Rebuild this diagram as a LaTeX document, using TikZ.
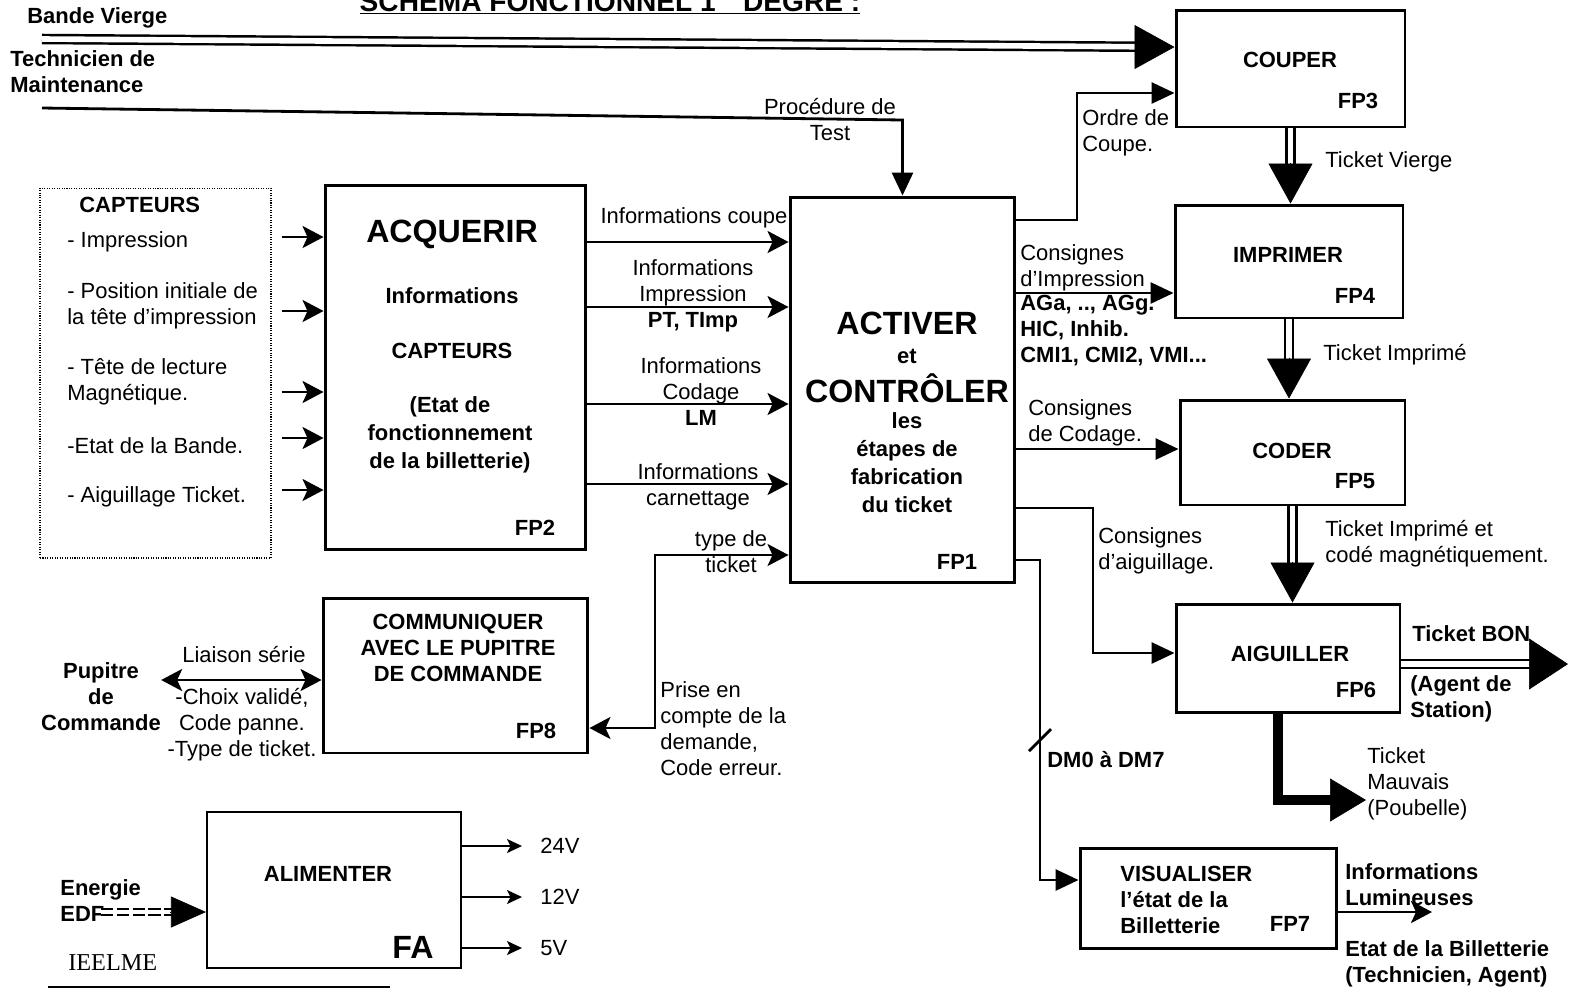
\documentclass[tikz,border=0pt]{standalone}
\usepackage{fontspec}
\setmainfont{Liberation Sans}
\newfontfamily\serifie{Liberation Serif}
\usetikzlibrary{arrows.meta,calc}

\tikzset{
  boite/.style={draw, line width=1.7pt, inner sep=0pt},
  lien/.style={line width=1.6pt},
  fleche/.style={lien, -{Triangle[length=0.46cm,width=0.42cm]}},
  flechec/.style={lien, -{Stealth[length=0.42cm,width=0.44cm,inset=0.1cm]}},
  flechedd/.style={lien, {Stealth[length=0.42cm,width=0.44cm,inset=0.1cm]}-{Stealth[length=0.42cm,width=0.44cm,inset=0.1cm]}},
  fin/.style={line width=0.8pt, -{Stealth[length=0.3cm,width=0.28cm,inset=0.07cm]}},
  dbl/.style={line width=1.4pt, double, double distance=3.2pt},
  tete/.style={-{Triangle[length=0.8cm,width=0.88cm]}},
  txt/.style={inner sep=0pt, font=\fontsize{12.5}{14.8}\selectfont},
  gras/.style={inner sep=0pt, font=\fontsize{12.5}{14.8}\selectfont\bfseries},
  grand/.style={inner sep=0pt, font=\fontsize{18.3}{21}\selectfont\bfseries},
}

\begin{document}
\begin{tikzpicture}[x=0.02cm, y=-0.02cm]
    \useasboundingbox (0,0) rectangle (1572,992);

    % titre, coupe par le haut de la page
    \node[inner sep=0pt, anchor=base, font=\fontsize{16}{18}\selectfont\bfseries] (titre) at (610,11) {\underline{SCHEMA FONCTIONNEL 1\textsuperscript{er} DEGRE :}};

    % boites
    \node[boite, line width=0.6pt, dash pattern=on 0.6pt off 0.8pt, minimum width=4.62cm, minimum height=7.4cm] (cap) at (155.5,373) {};
    \node[boite, minimum width=5.22cm, minimum height=7.3cm] (fp2) at (455.5,367.5) {};
    \node[boite, minimum width=4.5cm, minimum height=7.72cm] (fp1) at (902.5,390) {};
    \node[boite, minimum width=4.58cm, minimum height=2.34cm] (fp3) at (1290.5,68.5) {};
    \node[boite, minimum width=4.56cm, minimum height=2.26cm] (fp4) at (1289,261.5) {};
    \node[boite, minimum width=4.5cm, minimum height=2.1cm] (fp5) at (1292.5,452.5) {};
    \node[boite, minimum width=4.48cm, minimum height=2.16cm] (fp6) at (1288,658) {};
    \node[boite, minimum width=5.14cm, minimum height=2cm] (fp7) at (1208.5,898) {};
    \node[boite, minimum width=5.3cm, minimum height=3.1cm] (fp8) at (455.5,675.5) {};
    \node[boite, line width=1.2pt, minimum width=5.08cm, minimum height=3.12cm] (fa) at (334,890) {};

    % capteurs
    \node[gras, anchor=west] (capt) at (79,205) {CAPTEURS};
    \node[txt, anchor=west] (c1) at (67,242) {- Impression};
    \node[txt, anchor=west, align=left] (c2) at (67,306) {- Position initiale de\\la tête d’impression};
    \node[txt, anchor=west, align=left] (c3) at (67,382) {- Tête de lecture\\Magnétique.};
    \node[txt, anchor=west] (c4) at (67,446) {-Etat de la Bande.};
    \node[txt, anchor=west] (c5) at (67,497) {- Aiguillage Ticket.};
    \foreach \y in {237,311,392,438,490}
        \draw[flechec, shorten <=0.2cm] (cap.east |- 0,\y) -- (fp2.west |- 0,\y);

    % FP2
    \node[grand] (acq) at (452,234) {ACQUERIR};
    \node[gras] (acq2) at (452,296) {Informations};
    \node[gras] (acq3) at (452,351) {CAPTEURS};
    \node[gras, align=center, font=\fontsize{12.5}{15.9}\selectfont\bfseries] (acq4) at (450,435) {(Etat de\\fonctionnement\\de la billetterie)};
    \node[gras] (n2) at (535,528) {FP2};

    % FP1
    \node[grand] (act) at (907,323) {ACTIVER};
    \node[gras] (act2) at (907,356) {et};
    \node[grand] (act3) at (907,388) {CONTRÔLER};
    \node[gras, align=center, font=\fontsize{12.5}{15.9}\selectfont\bfseries] (act4) at (907,463) {les\\étapes de\\fabrication\\du ticket};
    \node[gras] (n1) at (957,562) {FP1};

    % FP2 vers FP1
    \foreach \y in {242,307,404,484}
        \draw[flechec] (fp2.east |- 0,\y) -- (fp1.west |- 0,\y);
    \node[txt] (i1) at (694,218) {Informations coupe};
    \node[txt, align=center] (i2) at (693,283) {Informations\\Impression};
    \node[gras] (i2b) at (693,322) {PT, TImp};
    \node[txt, align=center] (i3) at (701,381) {Informations\\Codage};
    \node[gras] (i3b) at (701,418) {LM};
    \node[txt, align=center] (i4) at (698,487) {Informations\\carnettage};

    % FP8
    \node[gras, align=center, font=\fontsize{12.5}{14.8}\selectfont\bfseries] (com) at (458,648) {COMMUNIQUER\\AVEC LE PUPITRE\\DE COMMANDE};
    \node[gras] (n8) at (536,731) {FP8};
    \draw[flechedd] (fp8.east |- 0,728) -- (655,728) -- (655,555) -- (fp1.west |- 0,555);
    \node[txt, align=center] (tt) at (731,552) {type de\\ticket};
    \node[txt, anchor=west, align=left] (pc) at (660,729) {Prise en\\compte de la\\demande,\\Code erreur.};
    \node[gras, align=center] (pup) at (101,697) {Pupitre\\de\\Commande};
    \draw[flechedd] (pup.east |- 0,680) -- (fp8.west |- 0,680);
    \node[txt] (ls) at (244,655) {Liaison série};
    \node[txt, align=center] (cv) at (242,725) {-Choix validé,\\Code panne.\\-Type de ticket.};

    % FA
    \node[gras] (ali) at (328,874) {ALIMENTER};
    \node[grand] (na) at (413,947) {FA};
    \node[txt, anchor=west] (v24) at (540,846) {24V};
    \node[txt, anchor=west] (v12) at (540,897) {12V};
    \node[txt, anchor=west] (v5) at (540,948) {5V};
    \foreach \v in {v24,v12,v5}
        \draw[fin, shorten >=0.36cm] (fa.east |- \v.west) -- (\v.west);
    \node[gras, anchor=west, align=left] (edfl) at (60,901) {Energie\\EDF};
    \coordinate (edf) at (101,912);
    \draw[dbl, line width=1pt, double distance=2.4pt, dash pattern=on 7pt off 2pt, shorten >=0.68cm] (edf) -- (fa.west |- edf);
    \draw[-{Triangle[length=0.7cm,width=0.62cm]}] ($(fa.west |- edf)+(-36,0)$) -- (fa.west |- edf);
    \node[inner sep=0pt, anchor=west, font=\serifie\fontsize{13.8}{16}\selectfont] (ie) at (68,963) {IEELME};
    \draw[line width=0.8pt] (48,987) -- (390,987);

    % entrees du haut
    \node[gras, anchor=west] (bvl) at (27,18) {Bande Vierge};
    \coordinate (bv) at (42,39);
    \draw[dbl, shorten >=0.76cm] (bv) -- (fp3.west |- 0,47);
    \draw[tete] ($(fp3.west |- 0,47)+(-39,0)$) -- (fp3.west |- 0,47);
    \node[gras, anchor=west, align=left] (tml) at (10,72) {Technicien de\\Maintenance};
    \coordinate (tm) at (42,108);
    \draw[fleche] (tm) -- (fp1.north |- 0,120) -- (fp1.north);
    \node[txt, align=center] (pt) at (830,120) {Procédure de\\Test};

    % FP3 a FP6
    \node[gras] (cou) at (1290,60) {COUPER};
    \node[gras] (n3) at (1358,101) {FP3};
    \node[gras] (imp) at (1288,255) {IMPRIMER};
    \node[gras] (n4) at (1355,296) {FP4};
    \node[gras] (cod) at (1292,451) {CODER};
    \node[gras] (n5) at (1355,481) {FP5};
    \node[gras] (aig) at (1290,654) {AIGUILLER};
    \node[gras] (n6) at (1356,690) {FP6};

    \draw[fleche] (fp1.east |- 0,220) -- (1077,220) -- (1077,93) -- (fp3.west |- 0,93);
    \node[txt, anchor=west, align=left] (oc) at (1082,133) {Ordre de\\Coupe.};
    \draw[fleche] (fp1.east |- 0,293) -- (fp4.west |- 0,293);
    \node[txt, anchor=west, align=left] (ci) at (1020,268) {Consignes\\d'Impression};
    \node[gras, anchor=west, align=left] (ag) at (1020,331) {AGa, .., AGg.\\HIC, Inhib.\\CMI1, CMI2, VMI...};
    \draw[fleche] (fp1.east |- 0,449) -- (fp5.west |- 0,449);
    \node[txt, anchor=west, align=left] (cc) at (1028,423) {Consignes\\de Codage.};
    \draw[fleche] (fp1.east |- 0,508) -- (1093,508) -- (1093,653) -- (fp6.west |- 0,653);
    \node[txt, anchor=west, align=left] (ca) at (1098,551) {Consignes\\d'aiguillage.};

    \foreach \a/\b in {fp3/fp4,fp4/fp5,fp5/fp6} {
        \draw[dbl, shorten >=0.78cm] (\a.south) -- (\a.south |- \b.north);
        \draw[tete] ($(\a.south |- \b.north)+(0,-41)$) -- (\a.south |- \b.north);
    }
    \node[txt, anchor=west] (tv) at (1325,162) {Ticket Vierge};
    \node[txt, anchor=west] (ti) at (1323,355) {Ticket Imprimé};
    \node[txt, anchor=west, align=left] (tc) at (1325,544) {Ticket Imprimé et\\codé magnétiquement.};

    % sorties de FP6
    \coordinate (bon) at (1568,664);
    \draw[dbl, shorten >=0.76cm] (fp6.east |- bon) -- (bon);
    \draw[-{Triangle[length=0.78cm,width=1.02cm]}] ($(bon)+(-39,0)$) -- (bon);
    \node[gras, anchor=west] (tb) at (1412,634) {Ticket BON};
    \node[gras, anchor=west, align=left] (as) at (1410,699) {(Agent de\\Station)};
    \coordinate (poub) at (1366,800);
    \draw[line width=0.2cm] (fp6.south -| 1278,0) |- ($(poub)+(-34,0)$);
    \draw[-{Triangle[length=0.72cm,width=0.86cm]}] ($(poub)+(-36,0)$) -- (poub);
    \node[txt, anchor=west, align=left] (tm2) at (1367,784) {Ticket\\Mauvais\\(Poubelle)};

    % FP7
    \draw[fleche] (fp1.east |- 0,560) -- (1040,560) -- (1040,880) -- (fp7.west |- 0,880);
    \draw[lien] (1029,751) -- (1051,729);
    \node[gras, anchor=west] (dm) at (1047,760) {DM0 à DM7};
    \node[gras, anchor=west, align=left] (vis) at (1120,900) {VISUALISER\\l’état de la\\Billetterie};
    \node[gras] (n7) at (1290,924) {FP7};
    \coordinate (lum) at (1432,912);
    \draw[flechec] (fp7.east |- lum) -- (lum);
    \node[gras, anchor=west, align=left] (il) at (1345,885) {Informations\\Lumineuses};
    \node[gras, anchor=west, align=left] (eb) at (1345,964) {Etat de la Billetterie\\(Technicien, Agent)};
\end{tikzpicture}
\end{document}
